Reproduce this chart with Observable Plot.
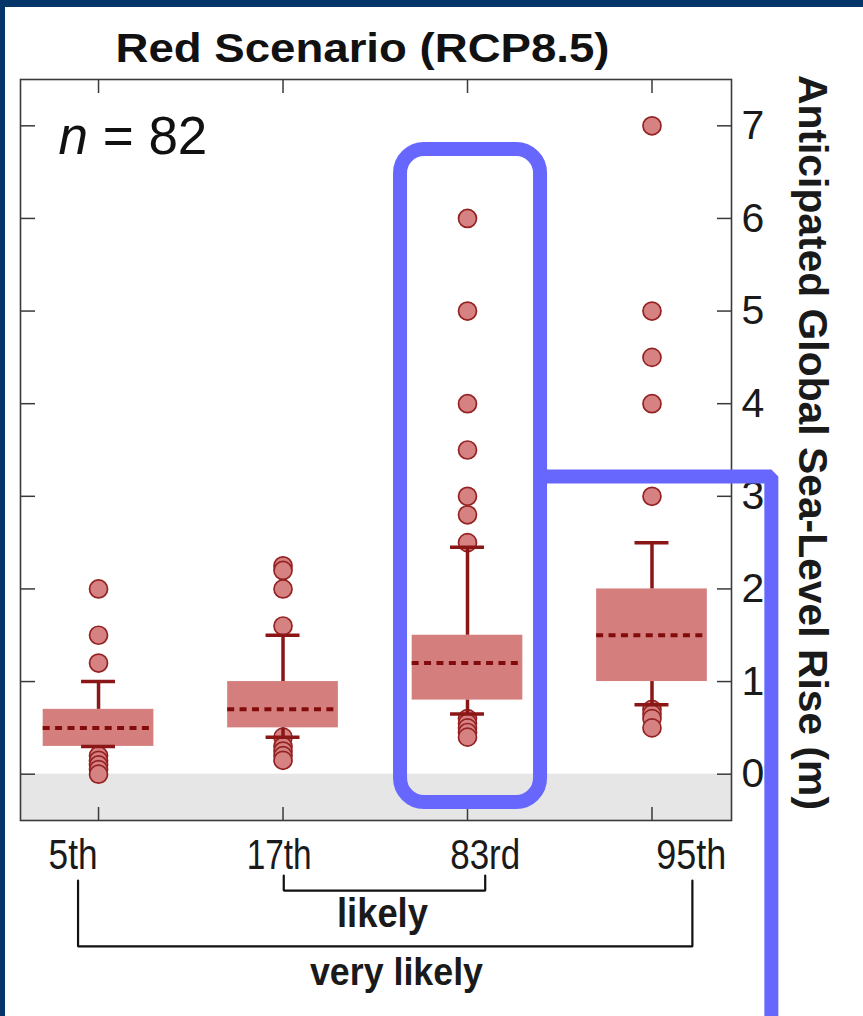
<!DOCTYPE html>
<html>
<head>
<meta charset="utf-8">
<script src="https://cdn.jsdelivr.net/npm/d3@7"></script>
<script src="https://cdn.jsdelivr.net/npm/@observablehq/plot@0.6"></script>
<style>
  html, body { margin: 0; padding: 0; background: white; }
  #wrap { width: 858px; height: 1009px; border-top: 7px solid #04366a; border-left: 5px solid #04366a; background: white; overflow: hidden; }
  svg { display: block; }
</style>
</head>
<body>
<div id="wrap"></div>
<script>
// ---- data ----
const categories = ["5th", "17th", "83rd", "95th"];
const q1 = [0.3, 0.5, 0.8, 1.0];
const median = [0.5, 0.7, 1.2, 1.5];
const q3 = [0.7, 1.0, 1.5, 2.0];
const whiskerLow = [0.3, 0.4, 0.65, 0.75];
const whiskerHigh = [1.0, 1.5, 2.45, 2.5];
const outliers5 = [2.0, 1.5, 1.2, 0.2, 0.15, 0.1, 0.05, 0.0];
const outliers17 = [2.25, 2.2, 2.0, 1.6, 0.4, 0.3, 0.25, 0.2, 0.15];
const outliers83 = [6.0, 5.0, 4.0, 3.5, 3.0, 2.8, 2.5, 0.6, 0.55, 0.5, 0.45, 0.4];
const outliers95 = [7.0, 5.0, 4.5, 4.0, 3.0, 0.7, 0.65, 0.6, 0.5];
const yTicks = [0, 1, 2, 3, 4, 5, 6, 7];
const titleText = "Red Scenario (RCP8.5)";
const nText = "n = 82";
const yTitle = "Anticipated Global Sea-Level Rise (m)";
const rangeLabels = ["likely", "very likely"];

// ---- derived tables ----
const outlierSets = [outliers5, outliers17, outliers83, outliers95];
const boxes = categories.map((c, i) => ({
  cat: c, x: i + 1, q1: q1[i], med: median[i], q3: q3[i], lo: whiskerLow[i], hi: whiskerHigh[i]
}));
const points = [];
outlierSets.forEach((arr, i) => arr.forEach(v => points.push({x: i + 1, v})));

const xDomain = [0.577, 4.431];
const yDomain = [-0.5, 7.5];
const halfBox = 0.3, halfCap = 0.092;
const dark = "#8a1616";
const blue = "#6767fe";

// label placement (slightly spread relative to ticks, as in the original)
const labelX = categories.map((c, i) => 2.5375 + (i - 1.5) * 1.117);
const labelRows = categories.map((c, i) => ({t: c, x: labelX[i]}));

const brackets = [
  {id: "likely", x: labelX[1] + 0.025, y: -1.094}, {id: "likely", x: labelX[1] + 0.025, y: -1.256},
  {id: "likely", x: labelX[2], y: -1.256}, {id: "likely", x: labelX[2], y: -1.094},
  {id: "very", x: labelX[0] + 0.027, y: -1.148}, {id: "very", x: labelX[0] + 0.027, y: -1.86},
  {id: "very", x: labelX[3] + 0.006, y: -1.86}, {id: "very", x: labelX[3] + 0.006, y: -1.148}
];

const chart = Plot.plot({
  width: 858, height: 1009,
  marginLeft: 15, marginRight: 132, marginTop: 72, marginBottom: 196,
  x: {type: "linear", domain: xDomain},
  y: {type: "linear", domain: yDomain},
  style: {fontFamily: "'Liberation Sans', Arial, sans-serif", color: "#1a1a1a", background: "white", overflow: "visible"},
  marks: [
    Plot.rect([0], {x1: xDomain[0], x2: xDomain[1], y1: yDomain[0], y2: 0, fill: "#e6e6e6"}),
    Plot.rect(boxes, {x1: d => d.x - halfBox, x2: d => d.x + halfBox, y1: "q1", y2: "q3", fill: "#d47e7e"}),
    Plot.ruleY(boxes, {x1: d => d.x - halfBox, x2: d => d.x + halfBox, y: "med", stroke: "#820c0c", strokeWidth: 4, strokeDasharray: "7,5.4"}),
    Plot.dot(points, {x: "x", y: "v", r: 9, fill: "#d78282", stroke: "#952222", strokeWidth: 1.7}),
    Plot.ruleX(boxes, {x: "x", y1: "q3", y2: "hi", stroke: dark, strokeWidth: 3.5}),
    Plot.ruleX(boxes, {x: "x", y1: "lo", y2: "q1", stroke: dark, strokeWidth: 3.5}),
    Plot.ruleY(boxes, {x1: d => d.x - halfCap, x2: d => d.x + halfCap, y: "hi", stroke: dark, strokeWidth: 3.5}),
    Plot.ruleY(boxes, {x1: d => d.x - halfCap, x2: d => d.x + halfCap, y: "lo", stroke: dark, strokeWidth: 3.5}),
    Plot.frame({stroke: "#3a3a3a", strokeWidth: 1.6}),
    Plot.axisY(yTicks, {anchor: "right", tickSize: -15, tickPadding: 25, fontSize: 41, tickFormat: d => String(d), label: null, stroke: "#3a3a3a", strokeWidth: 1.5, color: "#1a1a1a"}),
    Plot.axisY(yTicks, {anchor: "left", tickSize: -15, tickFormat: () => "", label: null, stroke: "#3a3a3a", strokeWidth: 1.5}),
    Plot.axisX([1, 2, 3, 4], {anchor: "top", tickSize: -13, tickFormat: () => "", label: null, stroke: "#3a3a3a", strokeWidth: 1.5}),
    Plot.axisX([1, 2, 3, 4], {anchor: "bottom", tickSize: -13, tickFormat: () => "", label: null, stroke: "#3a3a3a", strokeWidth: 1.5}),
    // category labels
    Plot.text(labelRows, {x: "x", y: -1.029, text: "t", fontSize: 42, lineAnchor: "bottom", textAnchor: "middle", fill: "#1a1a1a"}),
    // brackets
    Plot.line(brackets, {x: "x", y: "y", z: "id", stroke: "#111", strokeWidth: 2.2, strokeLinejoin: "miter"}),
    Plot.text([rangeLabels[0]], {x: 2.539, y: -1.655, text: d => d, fontSize: 40, fontWeight: "bold", lineAnchor: "bottom", fill: "#1a1a1a"}),
    Plot.text([rangeLabels[1]], {x: 2.615, y: -2.281, text: d => d, fontSize: 38, fontWeight: "bold", lineAnchor: "bottom", fill: "#1a1a1a"}),
    // title, n, y title
    Plot.text([titleText], {x: 2.431, y: 7.694, text: d => d, fontSize: 41, fontWeight: "bold", lineAnchor: "bottom", fill: "#111"}),
    Plot.text([nText], {x: 0.783, y: 6.701, text: d => d, fontSize: 53, textAnchor: "start", lineAnchor: "bottom", fill: "#111"}),
    Plot.text([yTitle], {x: 4.864, y: 3.581, text: d => d, fontSize: 40, fontWeight: "bold", rotate: 90, fill: "#1a1a1a"}),
    // blue annotation
    Plot.rect([0], {x1: 2.637, x2: 3.396, y1: -0.306, y2: 6.744, stroke: blue, strokeWidth: 14, fill: "none", rx: 24}),
    Plot.line([{x: 3.396, y: 3.214}, {x: 4.647, y: 3.214}, {x: 4.647, y: -3.0}], {x: "x", y: "y", stroke: blue, strokeWidth: 14, strokeLinejoin: "miter", strokeLinecap: "butt"})
  ]
});

// fit text widths to the original's proportions
const widths = {
  [titleText]: 494, [yTitle]: 735, "likely": 91, "very likely": 173,
  "5th": 49, "17th": 65, "83rd": 70, "95th": 70
};
chart.querySelectorAll("text").forEach(t => {
  const s = t.textContent;
  if (widths[s] && t.children.length === 0) {
    t.setAttribute("textLength", widths[s]);
    t.setAttribute("lengthAdjust", "spacingAndGlyphs");
  }
  if (s === nText && t.children.length === 0) {
    t.textContent = "";
    const a = document.createElementNS("http://www.w3.org/2000/svg", "tspan");
    a.setAttribute("font-style", "italic");
    a.textContent = "n";
    const b = document.createElementNS("http://www.w3.org/2000/svg", "tspan");
    b.textContent = " = 82";
    t.appendChild(a); t.appendChild(b);
  }
});
document.getElementById("wrap").appendChild(chart);
</script>
</body>
</html>
